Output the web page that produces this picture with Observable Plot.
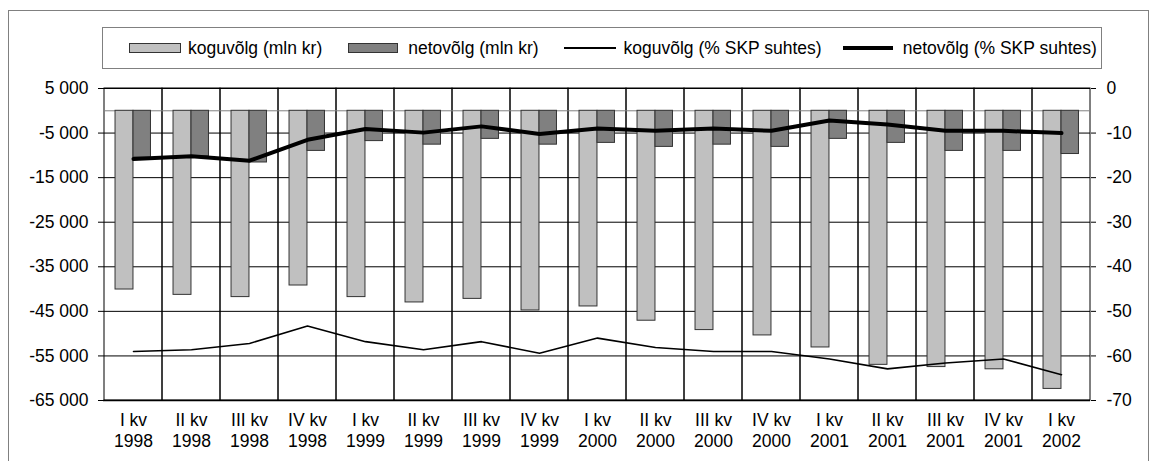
<!DOCTYPE html>
<html>
<head>
<meta charset="utf-8">
<script src="https://cdn.jsdelivr.net/npm/d3@7"></script>
<script src="https://cdn.jsdelivr.net/npm/@observablehq/plot@0.6"></script>
<style>
  html, body { margin: 0; padding: 0; background: #fff; }
  #wrap { position: relative; width: 1158px; height: 461px; overflow: hidden; font-family: "Liberation Sans", Arial, sans-serif; }
  #frame { position: absolute; left: 8px; top: 10px; width: 1141px; height: 480px; border: 1px solid #808080; box-sizing: border-box; pointer-events: none; }
  #legendRow { position: relative; height: 75px; }
  #legend { position: absolute; left: 102px; top: 27px; width: 1000px; height: 42px; border: 1px solid #808080; box-sizing: border-box;
            display: flex; align-items: center; font-size: 17.5px; color: #000; white-space: nowrap; }
  .item { display: flex; align-items: center; }
  .sw { height: 10px; border: 1px solid #333; box-sizing: border-box; }
  .ln { background: #000; }
</style>
</head>
<body>
<div id="wrap">
  <div id="legendRow"><div id="legend"></div></div>
  <div id="chart"></div>
  <div id="frame"></div>
</div>
<script>
// ---- data ----
const quarters = ["I kv","II kv","III kv","IV kv","I kv","II kv","III kv","IV kv","I kv","II kv","III kv","IV kv","I kv","II kv","III kv","IV kv","I kv"];
const years = ["1998","1998","1998","1998","1999","1999","1999","1999","2000","2000","2000","2000","2001","2001","2001","2001","2002"];
// koguvõlg (mln kr)
const koguMln = [-40100,-41300,-41800,-39200,-41800,-43000,-42200,-44800,-43900,-47100,-49200,-50400,-53100,-57000,-57500,-58000,-62400];
// netovõlg (mln kr)
const netoMln = [-10500,-10200,-11600,-9000,-6800,-7600,-6300,-7600,-7200,-8100,-7600,-8100,-6300,-7200,-9000,-9000,-9700];
// koguvõlg (% SKP suhtes)
const koguPct = [-59.0,-58.6,-57.2,-53.3,-56.8,-58.6,-56.8,-59.4,-56.0,-58.1,-59.0,-59.0,-60.7,-62.9,-61.6,-60.7,-64.2];
// netovõlg (% SKP suhtes)
const netoPct = [-15.8,-15.2,-16.2,-11.5,-9.1,-9.9,-8.5,-10.2,-9.0,-9.5,-9.0,-9.5,-7.2,-8.1,-9.5,-9.5,-10.0];

const leftTicks = [5000,-5000,-15000,-25000,-35000,-45000,-55000,-65000];
const leftTickLabels = ["5 000","-5 000","-15 000","-25 000","-35 000","-45 000","-55 000","-65 000"];
const rightTicks = [0,-10,-20,-30,-40,-50,-60,-70];
const rightTickLabels = ["0","-10","-20","-30","-40","-50","-60","-70"];

const seriesNames = ["koguvõlg (mln kr)","netovõlg (mln kr)","koguvõlg (% SKP suhtes)","netovõlg (% SKP suhtes)"];

// secondary (right) axis maps linearly onto the left one: 0 -> 5 000, -70 -> -65 000
const pctToLeft = d3.scaleLinear().domain([rightTicks[0], rightTicks[rightTicks.length-1]]).range([leftTicks[0], leftTicks[leftTicks.length-1]]);

const categories = quarters.map((q, i) => q + "\n" + years[i]);
const rows = categories.map((c, i) => ({cat: c, kogu: koguMln[i], neto: netoMln[i], koguP: koguPct[i], netoP: netoPct[i]}));

// ---- legend ----
const legend = document.getElementById("legend");
legend.innerHTML = `
  <div class="item" style="margin-left:26px"><div class="sw" style="width:52px;margin-right:7px;background:#c0c0c0"></div><span>${seriesNames[0]}</span></div>
  <div class="item" style="margin-left:26px"><div class="sw" style="width:50px;margin-right:10px;background:#808080"></div><span>${seriesNames[1]}</span></div>
  <div class="item" style="margin-left:25px"><div class="ln" style="width:52px;margin-right:8px;height:1.5px"></div><span>${seriesNames[2]}</span></div>
  <div class="item" style="margin-left:21px"><div class="ln" style="width:50px;margin-right:10px;height:4px"></div><span>${seriesNames[3]}</span></div>`;

// ---- chart ----
const W = 1158, H = 386;
const bw = (W - 103 - 68) / categories.length;
const chart = Plot.plot({
  width: W,
  height: H,
  marginTop: 13,
  marginBottom: 61,
  marginLeft: 103,
  marginRight: 68,
  style: {fontFamily: "'Liberation Sans', Arial, sans-serif", fontSize: "17.5px", color: "#000", background: "transparent"},
  x: {type: "band", domain: categories, padding: 0, label: null},
  y: {domain: [leftTicks[leftTicks.length-1], leftTicks[0]], label: null},
  marks: [
    // horizontal gridlines
    Plot.ruleY(leftTicks, {stroke: "#000", strokeWidth: 1}),
    // vertical gridlines at category boundaries
    Plot.barY(categories, {x: d => d, y1: leftTicks[leftTicks.length-1], y2: leftTicks[0], fill: "none", stroke: "#000", strokeWidth: 1}),
    // category axis line at 0
    Plot.ruleY([0], {stroke: "#808080", strokeWidth: 1}),
    // bars
    Plot.barY(rows, {x: "cat", y1: 0, y2: "kogu", fill: "#c0c0c0", stroke: "#333", strokeWidth: 1, insetLeft: bw/2 - 18, insetRight: bw/2}),
    Plot.barY(rows, {x: "cat", y1: 0, y2: "neto", fill: "#808080", stroke: "#333", strokeWidth: 1, insetLeft: bw/2, insetRight: bw/2 - 17.5}),
    // lines
    Plot.line(rows, {x: "cat", y: d => pctToLeft(d.koguP), stroke: "#000", strokeWidth: 1.6}),
    Plot.line(rows, {x: "cat", y: d => pctToLeft(d.netoP), stroke: "#000", strokeWidth: 4}),
    // axes
    Plot.axisY({anchor: "left", ticks: leftTicks, tickSize: 5, tickPadding: 10,
      tickFormat: d => leftTickLabels[leftTicks.indexOf(d)], stroke: "#000", fontSize: 17.5}),
    Plot.axisY({anchor: "right", ticks: rightTicks.map(r => pctToLeft(r)), tickSize: 5, tickPadding: 11,
      tickFormat: d => rightTickLabels[rightTicks.findIndex(r => Math.abs(pctToLeft(r) - d) < 1e-6)], stroke: "#000", fontSize: 17.5}),
    Plot.axisX({anchor: "bottom", tickSize: 0, tickPadding: 11, lineHeight: 1.17, fontSize: 17.5}),
    // plot bottom border
    Plot.ruleY([leftTicks[leftTicks.length-1]], {stroke: "#000", strokeWidth: 1.5})
  ]
});
document.getElementById("chart").appendChild(chart);
</script>
</body>
</html>
